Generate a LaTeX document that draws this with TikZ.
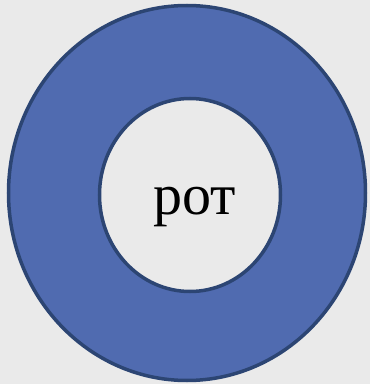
\documentclass[tikz,border=0pt]{standalone}
\usepackage{fontspec}
\setmainfont{Liberation Serif}
\usetikzlibrary{shapes.geometric}
\definecolor{bg}{HTML}{EAEAEA}
\definecolor{ringfill}{HTML}{506BB0}
\definecolor{ringline}{HTML}{2C4573}
\tikzset{
  ringshape/.style={ellipse, draw=ringline, line width=3.5pt, inner sep=0pt, outer sep=0pt},
}
\begin{document}
\begin{tikzpicture}[x=1pt,y=1pt]
\fill[bg] (0,0) rectangle (370,384);
\useasboundingbox (0,0) rectangle (370,384);
\node[ringshape, fill=ringfill, minimum width=357pt, minimum height=375pt] (outer) at (187,191) {};
\node[ringshape, fill=bg, minimum width=181pt, minimum height=193pt] (inner) at (190,189) {};
\node[anchor=base, inner sep=0pt, font=\fontsize{58pt}{60pt}\selectfont] (label) at (195,169) {рот};
\end{tikzpicture}
\end{document}
